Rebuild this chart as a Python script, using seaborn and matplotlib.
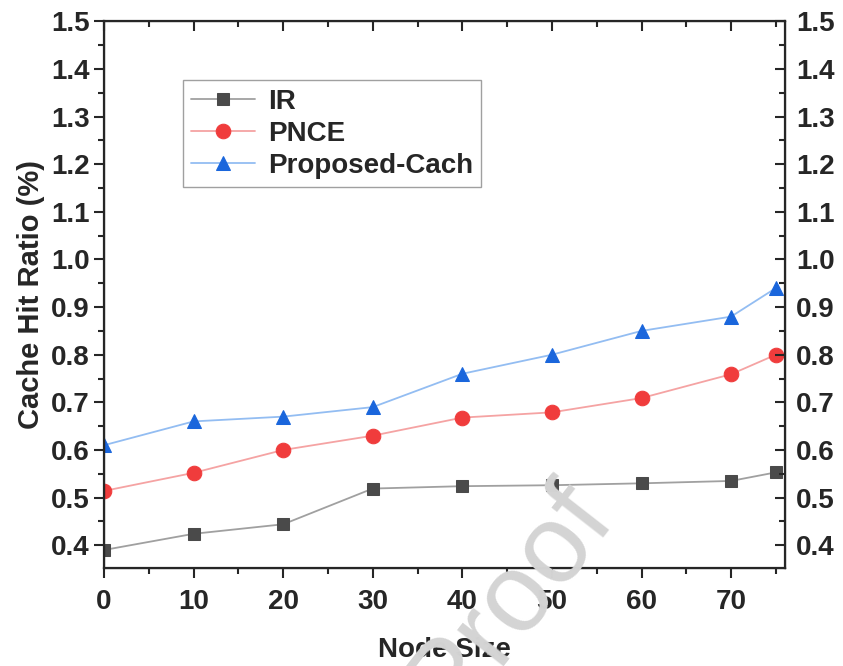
import matplotlib
matplotlib.use("Agg")
import matplotlib.pyplot as plt
from matplotlib.ticker import MultipleLocator
import pandas as pd
import seaborn as sns

node_size = [0, 10, 20, 30, 40, 50, 60, 70, 75]
ir = [0.390, 0.424, 0.444, 0.519, 0.524, 0.526, 0.530, 0.535, 0.553]
pnce = [0.514, 0.552, 0.600, 0.630, 0.668, 0.679, 0.709, 0.759, 0.800]
proposed = [0.610, 0.660, 0.670, 0.690, 0.760, 0.800, 0.850, 0.880, 0.940]

series = {"IR": ir, "PNCE": pnce, "Proposed-Cach": proposed}
styles = {
    "IR": dict(marker="s", ms=9, mfc="#4a4a4a", mec="#4a4a4a", color="#a0a0a0"),
    "PNCE": dict(marker="o", ms=10.5, mfc="#f03c3c", mec="#f03c3c", color="#f5a3a3"),
    "Proposed-Cach": dict(marker="^", ms=10.5, mfc="#1a66dc", mec="#1a66dc", color="#93bdf2"),
}

df = pd.DataFrame([
    {"Node Size": x, "value": v, "series": name}
    for name, vals in series.items() for x, v in zip(node_size, vals)
])

sns.set_style("ticks")
plt.rcParams["font.family"] = ["Liberation Sans", "DejaVu Sans"]
plt.rcParams["font.weight"] = "bold"

fig = plt.figure(figsize=(8.43, 6.66), dpi=100)
ax = fig.add_axes([0.1234, 0.147, 0.8076, 0.821])

for name in series:
    sub = df[df["series"] == name]
    sns.lineplot(data=sub, x="Node Size", y="value", ax=ax, label=name,
                 lw=1.3, **styles[name])

ax.set_xlim(0, 76)
ax.set_ylim(0.352, 1.5)
ax.xaxis.set_major_locator(MultipleLocator(10))
ax.xaxis.set_minor_locator(MultipleLocator(5))
ax.yaxis.set_major_locator(MultipleLocator(0.1))
ax.yaxis.set_minor_locator(MultipleLocator(0.05))
ax.yaxis.set_major_formatter(plt.FormatStrFormatter("%.1f"))
ax.tick_params(which="major", length=7, width=1.5, labelsize=20, direction="out")
ax.tick_params(which="minor", length=4, width=1.5, direction="out")
ax.tick_params(axis="x", pad=8)
for s in ax.spines.values():
    s.set_linewidth(1.6)
    s.set_visible(True)

ax.set_xlabel("Node Size", fontsize=20, fontweight="bold", labelpad=16)
ax.set_ylabel("Cache Hit Ratio (%)", fontsize=21, fontweight="bold", labelpad=4)

# mirrored right axis with labels, ticks pointing in
axr = ax.twinx()
axr.set_ylim(ax.get_ylim())
axr.yaxis.set_major_locator(MultipleLocator(0.1))
axr.yaxis.set_minor_locator(MultipleLocator(0.05))
axr.yaxis.set_major_formatter(plt.FormatStrFormatter("%.1f"))
axr.tick_params(which="major", length=7, width=1.5, labelsize=20, direction="in", pad=8)
axr.tick_params(which="minor", length=4, width=1.5, direction="in")

# top axis ticks, no labels
axt = ax.twiny()
axt.set_xlim(ax.get_xlim())
axt.xaxis.set_major_locator(MultipleLocator(10))
axt.xaxis.set_minor_locator(MultipleLocator(5))
axt.tick_params(which="major", length=7, width=1.5, direction="in", labeltop=False)
axt.tick_params(which="minor", length=4, width=1.5, direction="in")

leg = ax.legend(loc="upper left", bbox_to_anchor=(0.116, 0.892), borderaxespad=0,
                frameon=True, fancybox=False, handlelength=2.3, borderpad=0.3,
                labelspacing=0.22, handletextpad=0.45, prop={"weight": "bold", "size": 20})
leg.get_frame().set_edgecolor("#888888")
leg.get_frame().set_linewidth(1.0)

fig.text(0.605, 0.10, "Proof", fontsize=80, color="#d4d4d4", rotation=52,
         ha="center", va="center", fontweight="normal", zorder=0)

fig.savefig("out.png", dpi=100)
